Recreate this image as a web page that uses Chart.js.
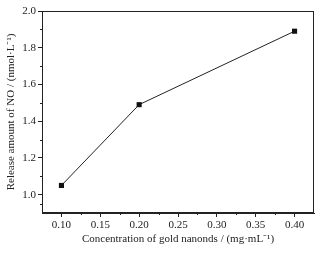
<!DOCTYPE html>
<html>
<head>
<meta charset="utf-8">
<script src="https://cdn.jsdelivr.net/npm/chart.js@4/dist/chart.umd.min.js"></script>
<style>
  html, body { margin: 0; padding: 0; background: #fff; }
  #wrap { width: 321px; height: 255px; }
</style>
</head>
<body>
<div id="wrap"><canvas id="grafico"></canvas></div>
<script>
// dados
const concentracao = [0.10, 0.20, 0.40];
const liberacaoNO = [1.05, 1.49, 1.89];
const ticksX = [0.10, 0.15, 0.20, 0.25, 0.30, 0.35, 0.40];
const ticksY = [1.0, 1.2, 1.4, 1.6, 1.8, 2.0];

const corEixo = '#222';
const fonte = { family: '"Liberation Serif", "Times New Roman", serif', size: 11 };

// desenha a moldura e os ticks menores
const molduraPlugin = {
    id: 'moldura',
    afterDraw(chart) {
        const ctx = chart.ctx;
        const a = chart.chartArea;
        ctx.save();
        ctx.strokeStyle = corEixo;
        ctx.lineWidth = 1;
        ctx.strokeRect(Math.round(a.left) + 0.5, Math.round(a.top) + 0.5,
            Math.round(a.right - a.left) - 1, Math.round(a.bottom - a.top) - 1);

        // ticks menores no meio dos maiores
        const sx = chart.scales.x;
        const sy = chart.scales.y;
        ctx.beginPath();
        for (let i = 0; i < ticksX.length - 1; i++) {
            const px = Math.round(sx.getPixelForValue((ticksX[i] + ticksX[i + 1]) / 2)) + 0.5;
            ctx.moveTo(px, a.bottom);
            ctx.lineTo(px, a.bottom + 2);
        }
        const my = [0.9].concat(ticksY);
        for (let i = 0; i < my.length - 1; i++) {
            const py = Math.round(sy.getPixelForValue((my[i] + my[i + 1]) / 2)) + 0.5;
            ctx.moveTo(a.left, py);
            ctx.lineTo(a.left - 2, py);
        }
        ctx.stroke();
        ctx.restore();
    }
};

const config = {
    type: 'scatter',
    data: {
        datasets: [{
            data: concentracao.map((c, i) => ({ x: c, y: liberacaoNO[i] })),
            showLine: true,
            borderColor: '#222',
            borderWidth: 1,
            backgroundColor: '#111',
            pointStyle: 'rect',
            pointRadius: 3.6,
            pointBorderWidth: 0
        }]
    },
    options: {
        responsive: true,
        maintainAspectRatio: false,
        animation: false,
        layout: { padding: { left: 0, right: 7, top: 11, bottom: 0 } },
        plugins: {
            legend: { display: false },
            tooltip: { enabled: false }
        },
        scales: {
            x: {
                type: 'linear',
                min: 0.075,
                max: 0.425,
                afterBuildTicks: s => { s.ticks = ticksX.map(v => ({ value: v })); },
                afterFit: s => { s.height = 42; },
                grid: { drawOnChartArea: false, tickLength: 4, tickColor: corEixo },
                border: { color: corEixo },
                ticks: {
                    padding: 2,
                    color: '#222',
                    font: fonte,
                    maxRotation: 0,
                    callback: v => v.toFixed(2)
                },
                title: {
                    display: true,
                    text: 'Concentration of gold nanonds / (mg·mL⁻¹)',
                    color: '#222',
                    font: fonte,
                    padding: { top: 0, bottom: 9 }
                }
            },
            y: {
                min: 0.9,
                max: 2.0,
                afterBuildTicks: s => { s.ticks = ticksY.map(v => ({ value: v })); },
                afterFit: s => { s.width = 42; },
                grid: { drawOnChartArea: false, tickLength: 4, tickColor: corEixo },
                border: { color: corEixo },
                ticks: {
                    padding: 2,
                    color: '#222',
                    font: fonte,
                    callback: v => v.toFixed(1)
                },
                title: {
                    display: true,
                    text: 'Release amount of NO / (nmol·L⁻¹)',
                    color: '#222',
                    font: fonte,
                    padding: { top: 5, bottom: 0 }
                }
            }
        }
    },
    plugins: [molduraPlugin]
};

document.addEventListener('DOMContentLoaded', function() {
    const ctx = document.getElementById('grafico').getContext('2d');
    new Chart(ctx, config);
});
</script>
</body>
</html>
